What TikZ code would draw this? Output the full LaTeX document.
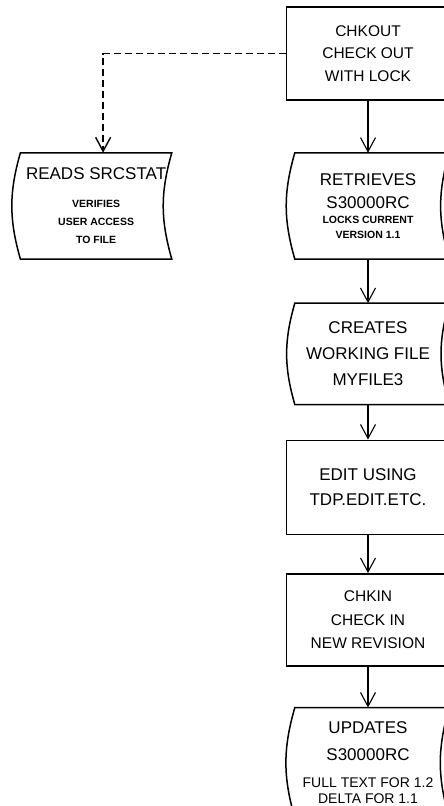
\documentclass[tikz,border=0pt]{standalone}
\usepackage{fontspec}
\setmainfont{Liberation Sans}
\usepackage{tikz}
\usetikzlibrary{arrows.meta,positioning}

\newcommand{\notetxt}{\fontsize{10.5}{15}\selectfont\bfseries}

\begin{document}
\begin{tikzpicture}[
    x=1pt, y=-1pt,
    node distance=40pt and 120pt,
    proc/.style={rectangle, draw, line width=1.5pt, minimum width=163pt, align=center},
    store/.style={rectangle, minimum width=146pt, align=center},
    flow/.style={-{Straight Barb[length=14pt,width=15pt]}, line width=1.1pt}
]
    \useasboundingbox (0,0) rectangle (444,806);

    \node [proc, minimum height=93pt, font=\fontsize{15.5}{22.5}\selectfont] (chkout) at (368,53.5)
        {CHKOUT\\CHECK OUT\\WITH LOCK};
    \node [store, minimum height=106pt, below=52pt of chkout, font=\fontsize{17}{23}\selectfont] (retr)
        {RETRIEVES\\S30000RC\\[-8pt]{\notetxt LOCKS CURRENT}\\[-8pt]{\notetxt VERSION 1.1}};
    \node [store, minimum height=101pt, below=44pt of retr, font=\fontsize{17}{26}\selectfont] (creates)
        {CREATES\\WORKING FILE\\MYFILE3};
    \node [proc, minimum height=94pt, below=35pt of creates, font=\fontsize{17}{25}\selectfont] (edit)
        {EDIT USING\\TDP.EDIT.ETC.};
    \node [proc, minimum height=92pt, below=38pt of edit, font=\fontsize{15.5}{23.5}\selectfont] (chkin)
        {CHKIN\\CHECK IN\\NEW REVISION};
    \node [store, minimum height=110pt, below=41pt of chkin, font=\fontsize{17}{27}\selectfont] (updates)
        {UPDATES\\S30000RC\\{\fontsize{14}{16}\selectfont FULL TEXT FOR 1.2}\\[-11pt]{\fontsize{14}{16}\selectfont DELTA FOR 1.1}};
    \node [store, minimum width=151pt, minimum height=106pt, left=123pt of retr, font=\fontsize{17}{28}\selectfont] (reads)
        {READS SRCSTAT\\{\notetxt VERIFIES}\\[-10pt]{\notetxt USER ACCESS}\\[-10pt]{\notetxt TO FILE}};

    % stored data outlines
    \foreach \n/\s in {reads/0, retr/8, creates/8, updates/8}
        \draw [line width=1.5pt] (\n.north west) to[bend right=16] (\n.south west)
            -- ([xshift=\s pt]\n.south east) to[bend left=16] ([xshift=\s pt]\n.north east) -- cycle;

    % Flow
    \draw [flow] (chkout) -- (retr);
    \draw [flow] (retr) -- (creates);
    \draw [flow] (creates) -- (edit);
    \draw [flow] (edit) -- (chkin);
    \draw [flow] (chkin) -- (updates);
    \draw [flow, line width=1.4pt, dash pattern=on 7pt off 4pt] (chkout.west) -| ([xshift=7pt]reads.north);

\end{tikzpicture}
\end{document}
